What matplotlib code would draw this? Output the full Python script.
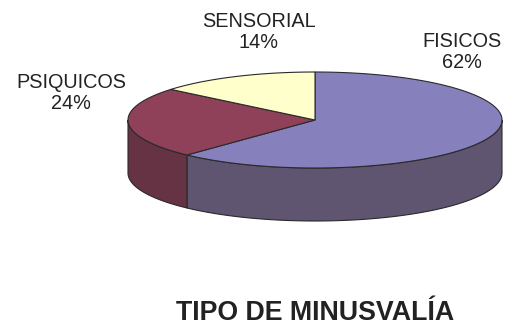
import numpy as np
import matplotlib
matplotlib.use("Agg")
import matplotlib.pyplot as plt
from matplotlib.patches import Polygon

plt.rcParams['font.family'] = ['Liberation Sans', 'DejaVu Sans']

categories = ['FISICOS', 'PSIQUICOS', 'SENSORIAL']
percents = [62, 24, 14]
top_colors = ['#8680BD', '#8E4159', '#FFFFCC']
side_colors = ['#5F5570', '#663344', '#B3B38F']
title = 'TIPO DE MINUSVALÍA'

# pie geometry in pixels (y down)
cx, cy = 315, 120
a, b = 187, 48
depth = 53


def ell(theta):
    # theta in degrees, measured clockwise from 12 o'clock
    t = np.radians(theta)
    return cx + a * np.sin(t), cy - b * np.cos(t)


fig = plt.figure(figsize=(5.16, 3.28), dpi=100)
ax = fig.add_axes([0, 0, 1, 1])
ax.set_xlim(0, 516)
ax.set_ylim(328, 0)
ax.axis('off')

edge = '#2a2a2a'
bounds = np.concatenate([[0], np.cumsum(percents) / sum(percents) * 360])

# side walls, front half only
for i in range(len(percents)):
    s, e = max(bounds[i], 90), min(bounds[i + 1], 270)
    if e <= s:
        continue
    th = np.linspace(s, e, 100)
    x, y = ell(th)
    pts = np.column_stack([np.concatenate([x, x[::-1]]),
                           np.concatenate([y, y[::-1] + depth])])
    ax.add_patch(Polygon(pts, closed=True, facecolor=side_colors[i],
                         edgecolor=edge, lw=0.8, zorder=1))

# top face
for i in range(len(percents)):
    th = np.linspace(bounds[i], bounds[i + 1], 200)
    x, y = ell(th)
    pts = np.column_stack([np.concatenate([[cx], x]), np.concatenate([[cy], y])])
    ax.add_patch(Polygon(pts, closed=True, facecolor=top_colors[i],
                         edgecolor=edge, lw=0.8, zorder=2))

label_pos = [(462, 52), (71, 93), (259, 32)]
for name, p, (lx, ly) in zip(categories, percents, label_pos):
    ax.text(lx, ly, f'{name}\n{p}%', ha='center', va='center',
            fontsize=14.3, color='#222222', linespacing=1.12)

ax.text(315, 313, title, ha='center', va='center', fontsize=19.3,
        fontweight='bold', color='#222222')

fig.savefig('out.png', dpi=100)
